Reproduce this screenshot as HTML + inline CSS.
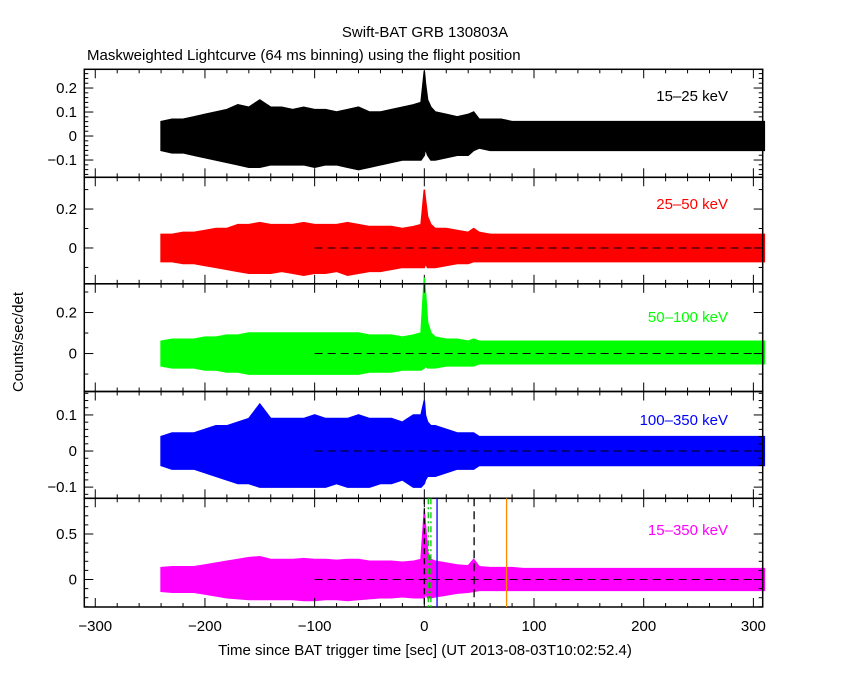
<!DOCTYPE html>
<html><head><meta charset="utf-8"><style>
body{margin:0;background:#fff}
svg{display:block}
text{font-family:"Liberation Sans",sans-serif;font-size:15px;fill:#000}
</style></head><body>
<svg id="chart" width="850" height="680">
<text x="425" y="37" text-anchor="middle">Swift-BAT GRB 130803A</text>
<text x="87" y="60">Maskweighted Lightcurve (64 ms binning) using the flight position</text>
<text transform="translate(23,342) rotate(-90)" text-anchor="middle">Counts/sec/det</text>
<text x="425" y="655" text-anchor="middle">Time since BAT trigger time [sec] (UT 2013-08-03T10:02:52.4)</text>
</svg>
<script>
const times=[-240,-230,-220,-210,-200,-190,-180,-170,-160,-150,-140,-130,-120,-110,-100,-90,-80,-70,-60,-50,-40,-30,-20,-10,-3,0,1,3,6,10,20,30,40,45,50,60,70,80,90,100,120,140,160,180,200,220,240,260,280,300,310];
const hi1=[0.06,0.07,0.07,0.08,0.09,0.1,0.11,0.13,0.12,0.15,0.12,0.12,0.11,0.12,0.11,0.11,0.1,0.11,0.12,0.1,0.1,0.11,0.12,0.13,0.14,0.27,0.22,0.15,0.12,0.1,0.09,0.08,0.09,0.1,0.07,0.07,0.07,0.06,0.06,0.06,0.06,0.06,0.06,0.06,0.06,0.06,0.06,0.06,0.06,0.06,0.06];
const lo1=[-0.06,-0.07,-0.07,-0.08,-0.09,-0.1,-0.11,-0.12,-0.13,-0.13,-0.12,-0.12,-0.12,-0.12,-0.13,-0.12,-0.12,-0.13,-0.14,-0.13,-0.12,-0.11,-0.1,-0.1,-0.1,-0.08,-0.05,-0.08,-0.1,-0.1,-0.09,-0.08,-0.08,-0.06,-0.05,-0.06,-0.06,-0.06,-0.06,-0.06,-0.06,-0.06,-0.06,-0.06,-0.06,-0.06,-0.06,-0.06,-0.06,-0.06,-0.06];
const hi2=[0.07,0.07,0.08,0.08,0.09,0.1,0.1,0.12,0.12,0.13,0.12,0.12,0.12,0.13,0.12,0.12,0.12,0.13,0.12,0.11,0.11,0.11,0.1,0.11,0.12,0.3,0.25,0.16,0.12,0.1,0.1,0.09,0.08,0.1,0.08,0.07,0.07,0.07,0.07,0.07,0.07,0.07,0.07,0.07,0.07,0.07,0.07,0.07,0.07,0.07,0.07];
const lo2=[-0.07,-0.07,-0.08,-0.08,-0.09,-0.1,-0.11,-0.12,-0.13,-0.13,-0.13,-0.12,-0.13,-0.14,-0.13,-0.13,-0.12,-0.14,-0.13,-0.12,-0.12,-0.11,-0.1,-0.1,-0.1,-0.1,-0.08,-0.1,-0.1,-0.1,-0.09,-0.08,-0.08,-0.07,-0.07,-0.07,-0.07,-0.07,-0.07,-0.07,-0.07,-0.07,-0.07,-0.07,-0.07,-0.07,-0.07,-0.07,-0.07,-0.07,-0.07];
const hi3=[0.06,0.07,0.07,0.07,0.08,0.08,0.09,0.09,0.1,0.1,0.1,0.1,0.1,0.1,0.1,0.1,0.1,0.1,0.1,0.09,0.09,0.09,0.08,0.09,0.1,0.37,0.3,0.15,0.1,0.08,0.07,0.07,0.06,0.07,0.06,0.06,0.06,0.06,0.06,0.06,0.06,0.06,0.06,0.06,0.06,0.06,0.06,0.06,0.06,0.06,0.06];
const lo3=[-0.06,-0.07,-0.07,-0.07,-0.08,-0.08,-0.09,-0.09,-0.1,-0.1,-0.1,-0.1,-0.1,-0.1,-0.1,-0.1,-0.1,-0.1,-0.1,-0.09,-0.09,-0.09,-0.08,-0.08,-0.08,-0.07,-0.06,-0.07,-0.07,-0.07,-0.06,-0.06,-0.06,-0.06,-0.05,-0.05,-0.05,-0.05,-0.05,-0.05,-0.05,-0.05,-0.05,-0.05,-0.05,-0.05,-0.05,-0.05,-0.05,-0.05,-0.05];
const hi4=[0.04,0.05,0.05,0.05,0.06,0.07,0.07,0.08,0.09,0.13,0.09,0.09,0.09,0.09,0.1,0.09,0.09,0.09,0.1,0.09,0.09,0.09,0.08,0.1,0.1,0.14,0.1,0.08,0.07,0.07,0.06,0.05,0.05,0.05,0.04,0.04,0.04,0.04,0.04,0.04,0.04,0.04,0.04,0.04,0.04,0.04,0.04,0.04,0.04,0.04,0.04];
const lo4=[-0.04,-0.05,-0.05,-0.05,-0.06,-0.07,-0.08,-0.09,-0.09,-0.1,-0.1,-0.1,-0.1,-0.1,-0.1,-0.1,-0.09,-0.1,-0.1,-0.1,-0.09,-0.09,-0.08,-0.1,-0.1,-0.09,-0.08,-0.07,-0.07,-0.07,-0.06,-0.05,-0.05,-0.05,-0.04,-0.04,-0.04,-0.04,-0.04,-0.04,-0.04,-0.04,-0.04,-0.04,-0.04,-0.04,-0.04,-0.04,-0.04,-0.04,-0.04];
const hi5=[0.13,0.14,0.14,0.14,0.16,0.18,0.2,0.22,0.24,0.25,0.22,0.22,0.22,0.23,0.22,0.22,0.21,0.22,0.22,0.2,0.2,0.2,0.19,0.2,0.22,0.75,0.6,0.3,0.22,0.2,0.18,0.16,0.15,0.22,0.14,0.13,0.13,0.13,0.12,0.12,0.12,0.12,0.12,0.12,0.12,0.12,0.12,0.12,0.12,0.12,0.12];
const lo5=[-0.13,-0.14,-0.14,-0.14,-0.16,-0.18,-0.2,-0.21,-0.22,-0.22,-0.22,-0.22,-0.22,-0.23,-0.23,-0.22,-0.22,-0.23,-0.22,-0.21,-0.2,-0.2,-0.19,-0.2,-0.2,-0.2,-0.15,-0.2,-0.2,-0.19,-0.17,-0.15,-0.14,-0.13,-0.12,-0.12,-0.12,-0.12,-0.12,-0.12,-0.12,-0.12,-0.12,-0.12,-0.12,-0.12,-0.12,-0.12,-0.12,-0.12,-0.12];
const bandLabels=["15\u201325 keV","25\u201350 keV","50\u2013100 keV","100\u2013350 keV","15\u2013350 keV"];
const yTicks1=[-0.1,0,0.1,0.2];
const yTicks2=[0,0.2];
const yTicks3=[0,0.2];
const yTicks4=[-0.1,0,0.1];
const yTicks5=[0,0.5];
const xTicks=[-300,-200,-100,0,100,200,300];
const markerTimes=[0,3.6,6,11.6,45.4,75];

const NS="http://www.w3.org/2000/svg";
const svg=document.getElementById('chart');
const X0=84.3,X1=762.7,XMIN=-310,XMAX=308.5;
const xs=t=>X0+(t-XMIN)/(XMAX-XMIN)*(X1-X0);
const panels=[
 {top:69.3,bot:177.3,ymin:-0.172,ymax:0.278,hi:hi1,lo:lo1,ticks:yTicks1,minor:0.02,col:"#000",ly:101},
 {top:177.3,bot:283.8,ymin:-0.184,ymax:0.363,hi:hi2,lo:lo2,ticks:yTicks2,minor:0.1,col:"#f00",ly:209},
 {top:283.8,bot:391.5,ymin:-0.185,ymax:0.34,hi:hi3,lo:lo3,ticks:yTicks3,minor:0.1,col:"#0f0",ly:322},
 {top:391.5,bot:498.3,ymin:-0.131,ymax:0.165,hi:hi4,lo:lo4,ticks:yTicks4,minor:0.02,col:"#00f",ly:425},
 {top:498.3,bot:607,ymin:-0.302,ymax:0.892,hi:hi5,lo:lo5,ticks:yTicks5,minor:0.1,col:"#f0f",ly:535}
];
function mk(tag,attrs){const e=document.createElementNS(NS,tag);for(const k in attrs)e.setAttribute(k,attrs[k]);svg.appendChild(e);return e;}
panels.forEach((p,i)=>{
 const ys=v=>p.bot-(v-p.ymin)/(p.ymax-p.ymin)*(p.bot-p.top);
 let pts=times.map((t,j)=>xs(t)+","+ys(p.hi[j]));
 for(let j=times.length-1;j>=0;j--)pts.push(xs(times[j])+","+ys(p.lo[j]));
 const band=mk('polygon',{points:pts.join(' '),fill:p.col,stroke:p.col,'stroke-width':1.5});
 
 
 const z=mk('line',{x1:xs(-100),x2:X1,y1:ys(0),y2:ys(0),stroke:'#000','stroke-dasharray':'8,5'});
 
 
 const fr=mk('rect',{x:X0,y:p.top,width:X1-X0,height:p.bot-p.top,fill:'none',stroke:'#000','stroke-width':1.5});
 
 
 for(let t=-300;t<=300;t+=20){const L=(t%100===0)?9:4;
  mk('line',{x1:xs(t),x2:xs(t),y1:p.top,y2:p.top+L,stroke:'#000'});
  mk('line',{x1:xs(t),x2:xs(t),y1:p.bot,y2:p.bot-L,stroke:'#000'});}
 const st=p.minor;
 for(let v=Math.ceil(p.ymin/st)*st;v<=p.ymax;v+=st){const vv=Math.round(v*1000)/1000;const maj=p.ticks.some(a=>Math.abs(a-vv)<1e-6)||Math.abs(vv%(st*5))<1e-6;const L=maj?9:4;
  mk('line',{x1:X0,x2:X0+L,y1:ys(vv),y2:ys(vv),stroke:'#000'});
  mk('line',{x1:X1,x2:X1-L,y1:ys(vv),y2:ys(vv),stroke:'#000'});}
 p.ticks.forEach(v=>{const tx=mk('text',{x:77,y:ys(v)+5,'text-anchor':'end'});tx.textContent=(v<0?"\u2212":"")+(Math.abs(v)===0?"0":String(Math.abs(v)));
  
  });
 const lb=mk('text',{x:728,y:p.ly,'text-anchor':'end',fill:p.col});lb.style.fill=p.col;lb.textContent=bandLabels[i];
 
 
 if(i===4){
  const styles=[['#000','6,4'],['#0c0','6,3,2,3'],['#0c0','6,3,2,3'],['#00f',''],['#000','8,5'],['#f80','']];
  markerTimes.forEach((t,k)=>{const m=mk('line',{x1:xs(t),x2:xs(t),y1:p.top,y2:p.bot,stroke:styles[k][0],'stroke-width':1.3});
   if(styles[k][1])m.setAttribute('stroke-dasharray',styles[k][1]);
   
   });
 }
});
xTicks.forEach(t=>{const tx=mk('text',{x:xs(t),y:631,'text-anchor':'middle'});tx.textContent=(t<0?"\u2212":"")+Math.abs(t);
 
 });
</script>
</body></html>
